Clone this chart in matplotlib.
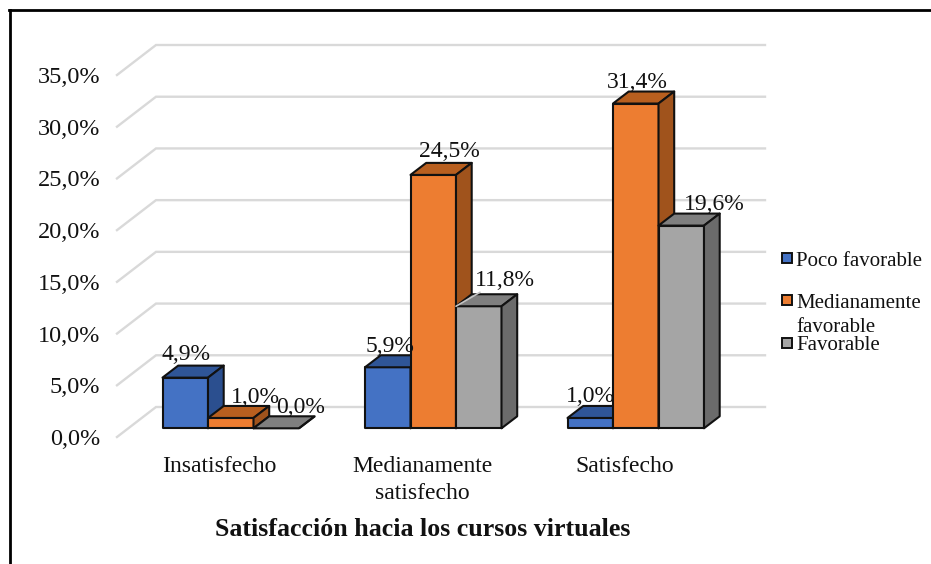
import matplotlib
matplotlib.use("Agg")
import matplotlib.pyplot as plt
from matplotlib.patches import Polygon, Rectangle
from matplotlib.lines import Line2D

plt.rcParams['font.family'] = ['Liberation Serif', 'DejaVu Serif']

categories = ['Insatisfecho', 'Medianamente\nsatisfecho', 'Satisfecho']
series_names = ['Poco favorable', 'Medianamente\nfavorable', 'Favorable']
poco = [4.9, 5.9, 1.0]
mediana = [1.0, 24.5, 31.4]
favorable = [0.0, 11.8, 19.6]
yticks = [0, 5, 10, 15, 20, 25, 30, 35]
ytick_labels = ['0,0%', '5,0%', '10,0%', '15,0%', '20,0%', '25,0%', '30,0%', '35,0%']
all_series = [poco, mediana, favorable]

W, H = 931, 564
fig = plt.figure(figsize=(W / 100, H / 100), dpi=100, facecolor='white')

# pixel frame of the axes
PX_Y0, PX_Y35 = 437.0, 75.0
PX_PER_CAT = 202.5
PX_X0 = 117.0            # left of axes
PX_X1 = 765.0
ax = fig.add_axes([PX_X0 / W, 1 - PX_Y0 / H, (PX_X1 - PX_X0) / W, (PX_Y0 - PX_Y35) / H])
px_per_pct = (PX_Y0 - PX_Y35) / 35
cat0_px = 230.75
ax.set_ylim(0, 35)
ax.set_xlim((PX_X0 - cat0_px) / PX_PER_CAT, (PX_X1 - cat0_px) / PX_PER_CAT)
ax.patch.set_visible(False)
for s in ax.spines.values():
    s.set_visible(False)

bar_w = 45.5 / PX_PER_CAT
x_unit = 1 / PX_PER_CAT
y_unit = 1 / px_per_pct
wall_dx, wall_dy = 39 * x_unit, 30 * y_unit
bar_dx, bar_dy = 15.7 * x_unit, 12 * y_unit
lift = 8.7 * y_unit      # bar front base above floor front edge

# gridlines: floor edge to wall, then along the back wall
x_left = ax.get_xlim()[0]
x_right = ax.get_xlim()[1]
for v in yticks:
    ax.plot([x_left, x_left + wall_dx, x_right], [v, v + wall_dy, v + wall_dy],
            color='#D9D9D9', lw=1.7, zorder=1, clip_on=False, solid_joinstyle='miter')

colors = [('#4472C4', '#2F5597', '#2B4F8F'),
          ('#ED7D31', '#B85F1F', '#A0531C'),
          ('#A5A5A5', '#7F7F7F', '#6B6B6B')]
edge = dict(edgecolor='#111111', linewidth=1.5, joinstyle='round', clip_on=False)

z = 3
for i in range(len(categories)):
    for j, vals in enumerate(all_series):
        v = vals[i]
        left = i + (j - 1.5) * bar_w
        right = left + bar_w
        top = v + lift
        front, top_c, side_c = colors[j]
        ax.bar(left, v, width=bar_w, bottom=lift, align='edge', color=front, zorder=z, **edge)
        ax.add_patch(Polygon([(left, top), (right, top), (right + bar_dx, top + bar_dy),
                              (left + bar_dx, top + bar_dy)], closed=True,
                             facecolor=top_c, zorder=z, **edge))
        ax.add_patch(Polygon([(right, lift), (right + bar_dx, lift + bar_dy),
                              (right + bar_dx, top + bar_dy), (right, top)], closed=True,
                             facecolor=side_c, zorder=z, **edge))
        z += 1

# data labels (pixel nudges from the bar-top centre)
nudges = [[(1, 23), (25, 20), (24, 21)],
          [(2, 21), (16, 23), (26, 26)],
          [(0, 21), (2, 21), (33, 21)]]
for i in range(len(categories)):
    for j, vals in enumerate(all_series):
        v = vals[i]
        left = i + (j - 1.5) * bar_w
        ax.annotate(f'{v:.1f}%'.replace('.', ','), (left + bar_w / 2, v + lift),
                    xytext=nudges[i][j], textcoords='offset pixels',
                    ha='center', va='center', fontsize=17, color='#111111',
                    zorder=50, annotation_clip=False)

# leader line of the 11,8% label
ax.annotate('', xy=(1 + 0.5 * bar_w, favorable[1] + lift), xytext=(24, 14),
            textcoords='offset pixels', zorder=49, annotation_clip=False,
            arrowprops=dict(arrowstyle='-', color='#C4C4C4', lw=1.2, shrinkA=0, shrinkB=0))

ax.set_yticks(yticks)
ax.set_yticklabels(ytick_labels, fontsize=17.5, color='#111111')
ax.tick_params(axis='y', length=0, pad=12)

ax.set_xticks([-0.058, 0.945, 1.945])
ax.set_xticklabels(categories, fontsize=17, color='#111111', linespacing=1.35)
ax.tick_params(axis='x', length=0, pad=14)
for lab in ax.get_xticklabels():
    lab.set_multialignment('center')

# title as axis label
fig.text(423 / W, 1 - 530 / H, 'Satisfacción hacia los cursos virtuales',
         ha='center', va='center', fontsize=18.6, fontweight='bold', color='#111111')

# legend
leg_y = [258, 300, 343]
for name, c, y in zip(series_names, colors, leg_y):
    fig.add_artist(Rectangle((782 / W, 1 - (y + 5) / H), 10 / W, 10 / H, transform=fig.transFigure,
                             facecolor=c[0], edgecolor='#111111', linewidth=1.4))
    fig.text(796 / W, 1 - (y - 6.5) / H, name, ha='left', va='top', fontsize=15,
             color='#111111', linespacing=1.42)

# image border
fig.add_artist(Line2D([9.5 / W, 9.5 / W], [0, 1 - 9.5 / H], color='black', lw=2.0,
                      transform=fig.transFigure))
fig.add_artist(Line2D([8.5 / W, 1], [1 - 9.5 / H, 1 - 9.5 / H], color='black', lw=2.0,
                      transform=fig.transFigure))

fig.savefig('out.png', dpi=100)
